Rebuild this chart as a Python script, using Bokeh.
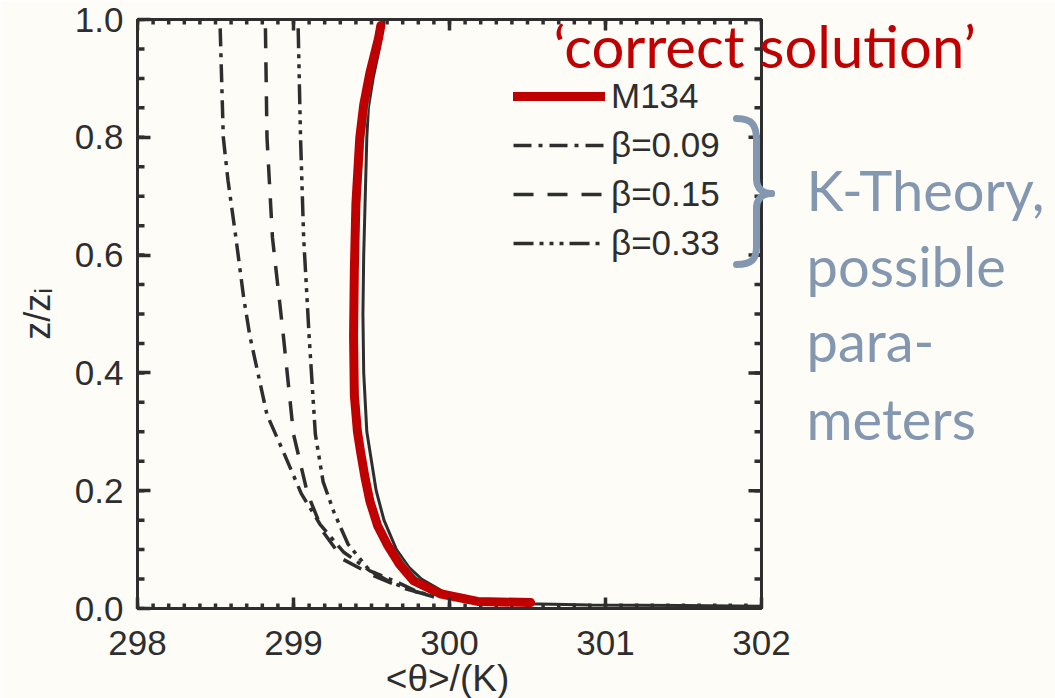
from bokeh.plotting import figure
from bokeh.models import (Range1d, FixedTicker, Legend, LegendItem, PrintfTickFormatter)
from bokeh.core.properties import value
from bokeh.embed import file_html
from bokeh.resources import INLINE
import numpy as np

# ---------------- data ----------------
# M134 (original black solid line of the scanned figure)
m134_theta = [299.58, 299.55, 299.51, 299.48, 299.47, 299.46, 299.45, 299.445, 299.45, 299.46,
              299.47, 299.50, 299.53, 299.58, 299.66, 299.74, 299.82, 299.95, 300.05, 300.20,
              300.50, 300.90, 301.50, 302.00]
m134_z = [1.00, 0.95, 0.90, 0.85, 0.80, 0.70, 0.60, 0.50, 0.40, 0.35,
          0.30, 0.25, 0.20, 0.15, 0.10, 0.07, 0.05, 0.03, 0.02, 0.012,
          0.008, 0.006, 0.005, 0.004]

# thin teal trace next to M134
teal_theta = [299.50, 299.45, 299.425, 299.41, 299.40, 299.405, 299.425, 299.48, 299.53, 299.58,
              299.64, 299.70, 299.76, 299.83]
teal_z = [0.90, 0.80, 0.70, 0.60, 0.50, 0.40, 0.30, 0.20, 0.15, 0.12,
          0.103, 0.08, 0.06, 0.044]

# red highlight ('correct solution', M134)
red_theta = [299.56, 299.545, 299.49, 299.45, 299.425, 299.40, 299.39, 299.385, 299.39, 299.41,
             299.43, 299.46, 299.49, 299.54, 299.60, 299.68, 299.77, 299.94, 300.18, 300.52]
red_z = [0.99, 0.968, 0.91, 0.855, 0.80, 0.687, 0.574, 0.463, 0.362, 0.30,
         0.266, 0.22, 0.182, 0.14, 0.109, 0.075, 0.047, 0.025, 0.012, 0.010]

# K-theory curves
b009_theta = [298.53, 298.55, 298.58, 298.63, 298.68, 298.72, 298.83, 298.94, 299.05, 299.17,
              299.32, 299.49, 299.67, 299.78, 299.90]
b009_z = [0.985, 0.80, 0.727, 0.631, 0.529, 0.463, 0.329, 0.263, 0.195, 0.143,
          0.096, 0.064, 0.044, 0.03, 0.02]

b015_theta = [298.82, 298.83, 298.865, 298.935, 299.00, 299.09, 299.19, 299.32, 299.52,
              299.70, 299.90]
b015_z = [0.985, 0.80, 0.63, 0.463, 0.296, 0.195, 0.13, 0.083, 0.055,
          0.035, 0.02]

b033_theta = [299.03, 299.045, 299.065, 299.10, 299.14, 299.19, 299.26, 299.35, 299.49, 299.62,
              299.76, 299.90]
b033_z = [0.985, 0.80, 0.63, 0.463, 0.296, 0.215, 0.163, 0.109, 0.064, 0.045,
          0.03, 0.02]

x_ticks = [298, 299, 300, 301, 302]
y_ticks = [0.0, 0.2, 0.4, 0.6, 0.8, 1.0]
legend_labels = ["M134", "β=0.09", "β=0.15", "β=0.33"]
x_title = "<θ>/(K)"
y_title = "z/zᵢ"
title_text = "‘correct solution’"
side_lines = ["K-Theory,", "possible", "para-", "meters"]

# ---------------- styling ----------------
INK = "#2e2e2e"
RED = "#C00000"
SLATE = "#8497B0"
PAPER = "#FDFCF7"

W, H = 1055, 698
L, R, T, B = 137, 294, 19, 90
DX = 4.0 / (W - L - R)   # data per pixel, x
DY = 1.0 / (H - T - B)   # data per pixel, y

def px_x(x):
    # canvas pixel column -> data theta
    return 298 + (x - L) * DX

def px_y(y):
    # canvas pixel row -> data z
    return (H - B - y) * DY

p = figure(width=W, height=H, output_backend="svg", toolbar_location=None,
           x_range=Range1d(298, 302), y_range=Range1d(0, 1),
           min_border_left=L, min_border_right=R, min_border_top=T, min_border_bottom=B,
           background_fill_color=PAPER, border_fill_color=PAPER)
p.grid.visible = False
p.outline_line_color = INK
p.outline_line_width = 3

x_minor = [float(v) for v in np.round(np.arange(298, 302.001, 0.1), 3)]
y_minor = [float(v) for v in np.round(np.arange(0, 1.001, 0.05), 3)]

def style_axis(ax, ticks, fmt):
    ax.ticker = FixedTicker(ticks=ticks)
    ax.formatter = PrintfTickFormatter(format=fmt)
    ax.axis_line_color = INK
    ax.axis_line_width = 3
    ax.major_tick_line_color = INK
    ax.major_tick_line_width = 3.5
    ax.major_tick_in = 13
    ax.major_tick_out = 0
    ax.minor_tick_in = 0
    ax.minor_tick_out = 0
    ax.major_label_text_font = "Liberation Sans"
    ax.major_label_text_font_size = "35px"
    ax.major_label_text_color = INK
    ax.axis_label_text_font = "Liberation Sans"
    ax.axis_label_text_font_style = "normal"
    ax.axis_label_text_color = INK

xa = p.xaxis[0]
style_axis(xa, x_ticks, "%d")
xa.major_tick_in = 11
xa.major_label_standoff = 22

ya = p.yaxis[0]
style_axis(ya, y_ticks, "%.1f")
ya.axis_label = y_title
ya.axis_label_text_font_size = "36px"
ya.major_label_standoff = 14
ya.axis_label_standoff = 14

# minor ticks (all sides) and major ticks on the top and right sides, inward, from the tick lists
def ticks_lr(vals, length, sides=(298, 302)):
    n = len(vals)
    for xe in sides:
        sgn = 1 if xe == 298 else -1
        p.segment(x0=[xe] * n, x1=[xe + sgn * length * DX] * n, y0=vals, y1=vals,
                  line_color=INK, line_width=3.5)

def ticks_tb(vals, length, sides=(0, 1)):
    n = len(vals)
    for ye in sides:
        sgn = 1 if ye == 0 else -1
        p.segment(x0=vals, x1=vals, y0=[ye] * n, y1=[ye + sgn * length * DY] * n,
                  line_color=INK, line_width=3.5)

ticks_lr(y_minor, 7)
ticks_lr(y_ticks, 13, sides=(302,))
ticks_tb(x_minor, 5)
ticks_tb(x_ticks, 11, sides=(1,))

# ---------------- curves ----------------
r09 = p.line(b009_theta, b009_z, line_color=INK, line_width=3.5, line_dash="18 7 4 7")
r15 = p.line(b015_theta, b015_z, line_color=INK, line_width=3.5, line_dash="20 14")
r33 = p.line(b033_theta, b033_z, line_color=INK, line_width=3.5, line_dash="20 6 4 6 4 6 4 6")
p.line(m134_theta, m134_z, line_color=INK, line_width=3)
p.line(teal_theta, teal_z, line_color="#2CC9A2", line_width=1.5)
rred = p.line(red_theta, red_z, line_color=RED, line_width=9, line_cap="round", line_join="round")

legend = Legend(items=[LegendItem(label=legend_labels[0], renderers=[rred]),
                       LegendItem(label=legend_labels[1], renderers=[r09]),
                       LegendItem(label=legend_labels[2], renderers=[r15]),
                       LegendItem(label=legend_labels[3], renderers=[r33])],
                location=(376, 345), background_fill_alpha=0, border_line_color=None,
                padding=0, margin=0, spacing=9, glyph_width=92, glyph_height=20,
                label_height=20, label_standoff=6,
                label_text_font="Liberation Sans", label_text_font_size="35px",
                label_text_color=INK)
p.add_layout(legend)

# ---------------- texts outside the frame (overlay level: not clipped) ----------------
tx = p.text(x=[px_x(447)], y=[px_y(678)], text=[x_title], text_font=value("Liberation Sans"),
            text_font_size="37px", text_color=INK, text_align="center", text_baseline="middle")
tx.level = "overlay"
t1 = p.text(x=[px_x(553)], y=[px_y(45)], text=[title_text], text_font=value("Lato"),
            text_font_size="58px", text_color=RED, text_baseline="middle")
t1.level = "overlay"
t2 = p.text(x=[px_x(806)] * 4, y=[px_y(v) for v in [189, 265, 340, 418]], text=side_lines,
            text_font=value("Lato"), text_font_size="56px", text_color=SLATE,
            text_baseline="middle")
t2.level = "overlay"

# curly brace (decoration) drawn as bezier segments, canvas pixels -> data
bx = [736, 756, 756, 771, 756, 756]
by = [118, 140, 178, 193, 208, 246]
ex = [756, 756, 771, 756, 756, 736]
ey = [140, 178, 193, 208, 246, 264]
c0x = [752, 756, 756, 762, 756, 756]
c0y = [118, 140, 188, 193, 198, 258]
c1x = [756, 756, 762, 756, 756, 752]
c1y = [125, 178, 193, 198, 246, 264]
br = p.bezier(x0=[px_x(v) for v in bx], y0=[px_y(v) for v in by],
              x1=[px_x(v) for v in ex], y1=[px_y(v) for v in ey],
              cx0=[px_x(v) for v in c0x], cy0=[px_y(v) for v in c0y],
              cx1=[px_x(v) for v in c1x], cy1=[px_y(v) for v in c1y],
              line_color=SLATE, line_width=7, line_cap="round")
br.level = "overlay"

open("out.html", "w").write(file_html(p, INLINE))
